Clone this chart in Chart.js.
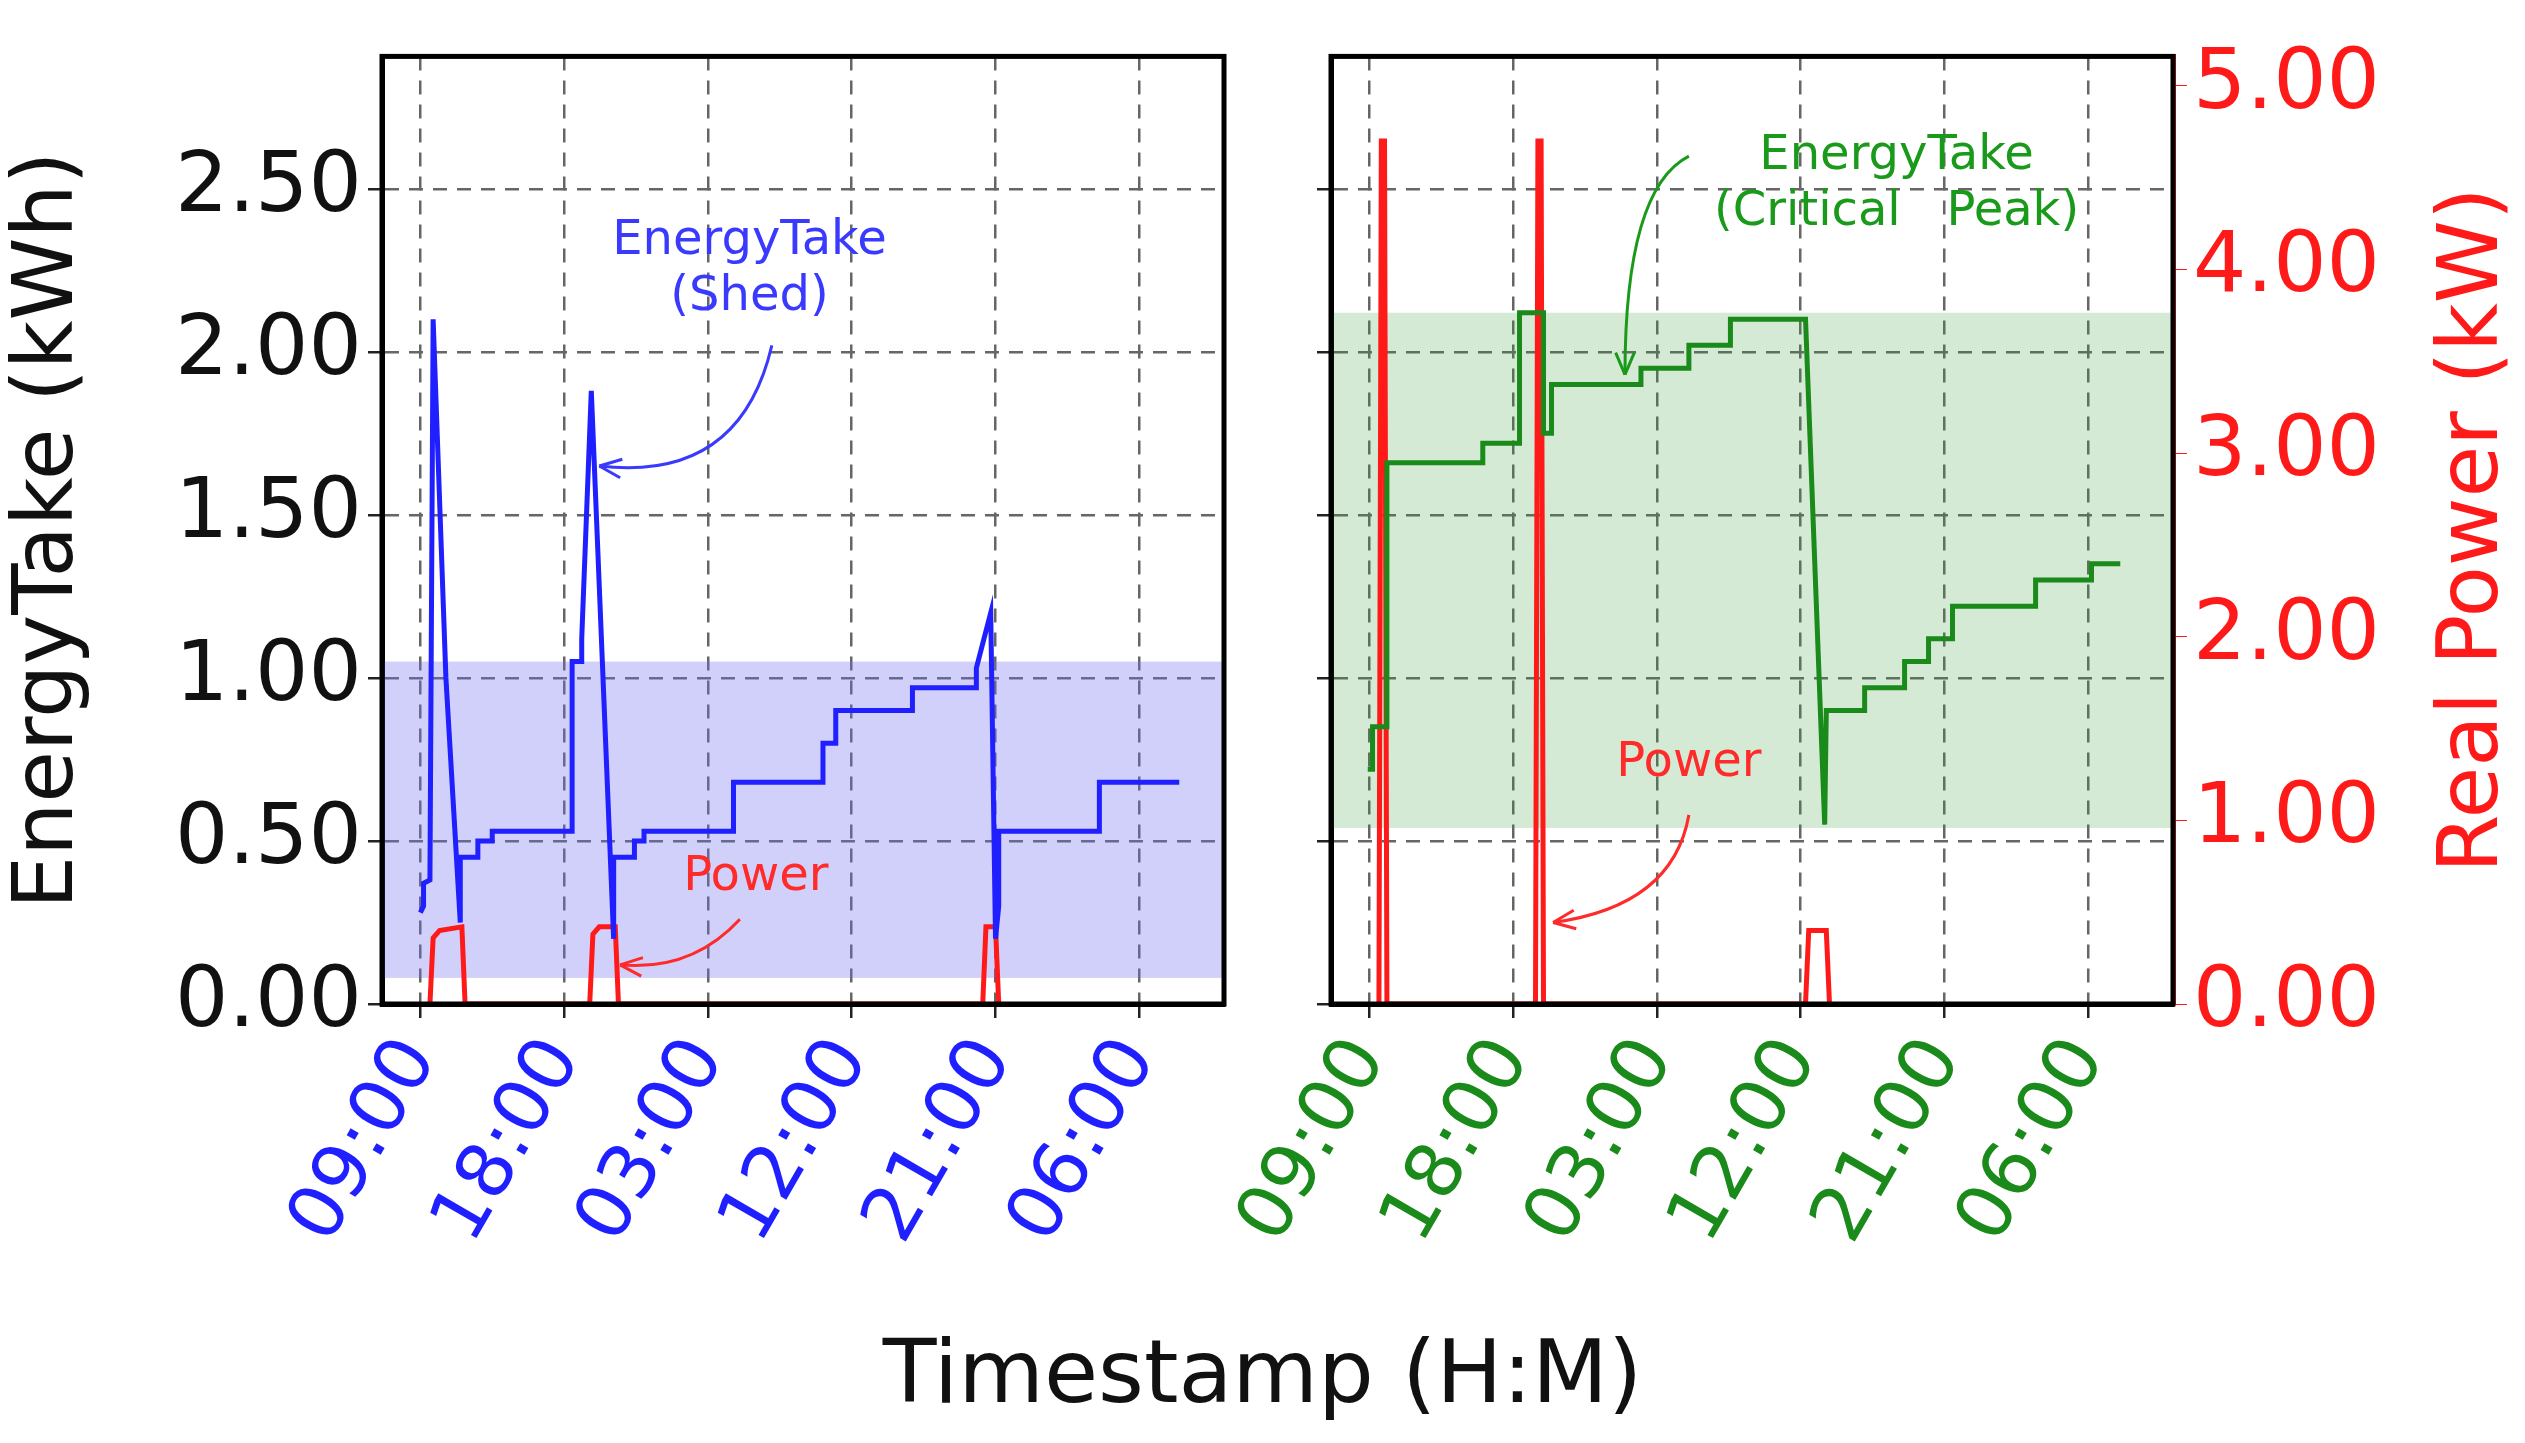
<!DOCTYPE html>
<html><head><meta charset="utf-8">
<script src="https://cdn.jsdelivr.net/npm/chart.js@4.4.0/dist/chart.umd.min.js"></script>
<style>
body{margin:0;background:#fff;width:2525px;height:1443px;position:relative;overflow:hidden;font-family:"DejaVu Sans",sans-serif}
canvas{position:absolute;top:0}
#t{position:absolute;left:0;width:2525px;top:1320px;text-align:center;font-size:88px;color:#111}
</style></head><body>
<canvas id="c1" style="left:0" width="1260" height="1443"></canvas>
<canvas id="c2" style="left:1224px" width="1301" height="1443"></canvas>
<div id="t">Timestamp (H:M)</div>
<script>
// hours since 09:00 on day one
const xTicks = [0, 9, 18, 27, 36, 45];
const shedX = [0, 0.2, 0.2, 0.6, 0.8, 1.6, 2.5, 2.5, 3.6, 3.6, 4.5, 4.5, 9.5, 9.5, 10.1, 10.1, 10.7, 12.1, 12.1, 13.4, 13.4, 14.0, 14.0, 19.6, 19.6, 25.2, 25.2, 26.0, 26.0, 30.8, 30.8, 34.8, 34.8, 35.7, 36.0, 36.2, 36.2, 42.5, 42.5, 47.5];
const shedY = [0.28, 0.30, 0.37, 0.38, 2.10, 1.00, 0.25, 0.45, 0.45, 0.50, 0.50, 0.53, 0.53, 1.05, 1.05, 1.12, 1.88, 0.20, 0.45, 0.45, 0.50, 0.50, 0.53, 0.53, 0.68, 0.68, 0.80, 0.80, 0.90, 0.90, 0.97, 0.97, 1.03, 1.20, 0.20, 0.30, 0.53, 0.53, 0.68, 0.68];
const shedPowX = [0.6, 0.8, 1.2, 2.6, 2.8, 10.6, 10.8, 11.2, 12.2, 12.4, 35.2, 35.4, 36.0, 36.2];
const shedPowY = [0, 0.36, 0.40, 0.42, 0, 0, 0.38, 0.42, 0.42, 0, 0, 0.42, 0.42, 0];
const peakX = [-0.1, 0.2, 0.2, 0.4, 1.1, 1.1, 7.1, 7.1, 9.4, 9.4, 10.9, 10.9, 11.4, 11.4, 17.0, 17.0, 20.0, 20.0, 22.6, 22.6, 27.3, 28.5, 28.6, 28.6, 31.0, 31.0, 33.5, 33.5, 35.0, 35.0, 36.5, 36.5, 41.7, 41.7, 45.2, 45.2, 47.0];
const peakY = [0.72, 0.72, 0.85, 0.85, 0.85, 1.66, 1.66, 1.72, 1.72, 2.12, 2.12, 1.75, 1.75, 1.90, 1.90, 1.95, 1.95, 2.02, 2.02, 2.10, 2.10, 0.55, 0.90, 0.90, 0.90, 0.97, 0.97, 1.05, 1.05, 1.12, 1.12, 1.22, 1.22, 1.30, 1.30, 1.35, 1.35];
const peakPowX = [0.6, 0.75, 0.95, 1.1, 10.4, 10.55, 10.75, 10.9, 27.3, 27.5, 28.6, 28.8];
const peakPowY = [0, 4.70, 4.70, 0, 0, 4.70, 4.70, 0, 0, 0.40, 0.40, 0];
const energyTicks = [0, 0.5, 1.0, 1.5, 2.0, 2.5];
const powerTicks = [0, 1, 2, 3, 4, 5];

const pts = (xs, ys) => xs.map((x, i) => ({x: x, y: ys[i]}));
const fmt = v => String((9 + v) % 24).padStart(2, "0") + ":00";
const F = "DejaVu Sans";
const grid = {color: "#666", lineWidth: 2.5, drawTicks: true, tickLength: 14, tickColor: "#222"};
const border = {color: "#000", width: 5, dash: [14, 10]};

const bandPlugin = {
  id: "band",
  beforeDatasetsDraw(chart, args, o) {
    const {ctx, chartArea: a, scales} = chart;
    const y1 = scales.y.getPixelForValue(o.lo), y2 = scales.y.getPixelForValue(o.hi);
    ctx.save();
    ctx.fillStyle = o.color;
    ctx.fillRect(a.left, y2, a.right - a.left, y1 - y2);
    ctx.restore();
  }
};
const notePlugin = {
  id: "notes",
  afterDraw(chart, args, o) {
    const {ctx, scales, chartArea: a} = chart;
    ctx.save();
    // box around plot
    ctx.strokeStyle = "#000"; ctx.lineWidth = 5;
    ctx.strokeRect(a.left, a.top, a.right - a.left, a.bottom - a.top);
    if (o.rightTitle) {
      ctx.save();
      ctx.translate(chart.width - 30, (a.top + a.bottom) / 2);
      ctx.rotate(-Math.PI / 2);
      ctx.fillStyle = "#ff1a1a"; ctx.font = "84px " + F;
      ctx.textAlign = "center"; ctx.textBaseline = "middle";
      ctx.fillText("Real Power (kW)", 0, -20);
      ctx.restore();
    }
    ctx.textAlign = "center";
    for (const n of o.items) {
      ctx.fillStyle = n.color; ctx.strokeStyle = n.color;
      ctx.font = "48px " + F;
      const px = scales.x.getPixelForValue(n.x), py = scales.y.getPixelForValue(n.y);
      n.lines.forEach((l, i) => ctx.fillText(l, px, py + i * 56));
      const sx = scales.x.getPixelForValue(n.sx), sy = scales.y.getPixelForValue(n.sy);
      const ex = scales.x.getPixelForValue(n.ex), ey = scales.y.getPixelForValue(n.ey);
      const cx = scales.x.getPixelForValue(n.cx), cy = scales.y.getPixelForValue(n.cy);
      ctx.lineWidth = 3;
      ctx.beginPath(); ctx.moveTo(sx, sy); ctx.quadraticCurveTo(cx, cy, ex, ey); ctx.stroke();
      const ang = Math.atan2(ey - cy, ex - cx);
      ctx.beginPath();
      ctx.moveTo(ex, ey);
      ctx.lineTo(ex - 24 * Math.cos(ang - 0.4), ey - 24 * Math.sin(ang - 0.4));
      ctx.moveTo(ex, ey);
      ctx.lineTo(ex - 24 * Math.cos(ang + 0.4), ey - 24 * Math.sin(ang + 0.4));
      ctx.stroke();
    }
    ctx.restore();
  }
};

function xScale(color) {
  return {
    type: "linear", min: -2.4, max: 50.3,
    afterBuildTicks: s => { s.ticks = xTicks.map(v => ({value: v})); },
    afterFit: s => { s.height = 439; },
    grid: grid, border: border,
    ticks: {color: color, font: {size: 76, family: F}, autoSkip: false, maxRotation: 60, minRotation: 60, padding: 6, callback: v => fmt(v)}
  };
}

function makeChart(id, energyX, energyY, powX, powY, lineColor, band, tickColor, leftLabels, notes) {
  return new Chart(document.getElementById(id), {
    type: "line",
    data: {
      datasets: [
        {data: pts(energyX, energyY), borderColor: lineColor, borderWidth: 5, pointRadius: 0, yAxisID: "y"},
        {data: pts(powX, powY), borderColor: "#ff1a1a", borderWidth: 5, pointRadius: 0, yAxisID: "y2"}
      ]
    },
    options: {
      responsive: false, animation: false,
      layout: {padding: {top: 49, right: leftLabels ? 36 : 0}},
      scales: {
        x: xScale(tickColor),
        y: {
          min: 0, max: 2.906,
          afterBuildTicks: s => { s.ticks = energyTicks.map(v => ({value: v})); },
          afterFit: s => { s.width = leftLabels ? 382 : 107; },
          grid: grid, border: border,
          title: {display: leftLabels, text: "EnergyTake (kWh)", color: "#111", font: {size: 84, family: F}, padding: 0},
          ticks: {color: "#111", font: {size: 84, family: F}, padding: 6, callback: v => leftLabels ? v.toFixed(2) : ""}
        },
        y2: {
          position: "right", min: 0, max: 5.16, display: !leftLabels,
          afterBuildTicks: s => { s.ticks = powerTicks.map(v => ({value: v})); },
          afterFit: s => { s.width = leftLabels ? 0 : 352; },
          grid: {display: true, drawOnChartArea: false, tickLength: 14, tickColor: "#ff1a1a"},
          border: {color: "#ff1a1a", width: 5},
          ticks: {color: "#ff1a1a", font: {size: 84, family: F}, padding: 6, callback: v => v.toFixed(2)}
        }
      },
      plugins: {legend: {display: false}, tooltip: {enabled: false}, band: band, notes: {items: notes, rightTitle: !leftLabels}}
    },
    plugins: [bandPlugin, notePlugin]
  });
}

makeChart("c1", shedX, shedY, shedPowX, shedPowY, "#1f1fff",
  {lo: 0.08, hi: 1.05, color: "rgba(110,110,240,0.32)"}, "#1f1fff", true,
  [
    {lines: ["EnergyTake", "(Shed)"], color: "#3a3aff", x: 20.6, y: 2.3, sx: 22, sy: 2.02, cx: 20, cy: 1.6, ex: 11.2, ey: 1.65},
    {lines: ["Power"], color: "#ff2a2a", x: 21, y: 0.35, sx: 20, sy: 0.26, cx: 17, cy: 0.1, ex: 12.5, ey: 0.12}
  ]);
makeChart("c2", peakX, peakY, peakPowX, peakPowY, "#1a8a1a",
  {lo: 0.54, hi: 2.12, color: "rgba(60,160,60,0.22)"}, "#1a8a1a", false,
  [
    {lines: ["EnergyTake", "(Critical   Peak)"], color: "#1a9a1a", x: 33, y: 2.56, sx: 20, sy: 2.6, cx: 16, cy: 2.5, ex: 16, ey: 1.93},
    {lines: ["Power"], color: "#ff2a2a", x: 20, y: 0.7, sx: 20, sy: 0.58, cx: 19, cy: 0.3, ex: 11.5, ey: 0.25}
  ]);
</script>
</body></html>
